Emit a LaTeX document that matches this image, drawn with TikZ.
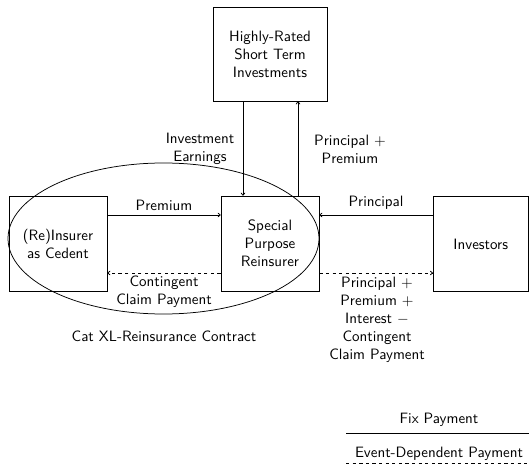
\documentclass[tikz,border=0pt]{standalone}
\usetikzlibrary{arrows.meta}
\begin{document}
\begin{tikzpicture}[x=0.6667pt,y=-0.6667pt,
  every node/.style={font=\sffamily, align=center},
  box/.style={draw, line width=0.5pt, inner sep=0pt, minimum width=65.3pt, minimum height=63.3pt},
  conn/.style={line width=0.5pt, -{To[length=2pt,width=3pt]}},
  evt/.style={dash pattern=on 2.2pt off 2.2pt},
  lbl/.style={inner sep=0pt}]
\useasboundingbox (0,0) rectangle (529,473);
% boxes
\node[box] (ced) at (58,243.5) {(Re)Insurer\\as Cedent};
\node[box] (spr) at (270,243.5) {Special\\Purpose\\Reinsurer};
\node[box, minimum width=63.3pt] (inv) at (480.75,244) {Investors};
\node[box, minimum width=76pt, minimum height=62.7pt] (top) at (270,54) {Highly-Rated\\Short Term\\Investments};
% helper coordinates
\coordinate (yA) at (0,215);
\coordinate (yB) at (0,273);
\coordinate (xL) at (243,0);
\coordinate (xR) at (298,0);
% contract ellipse
\draw[line width=0.5pt] (163.5,238.5) ellipse [x radius=155.5, y radius=75.5];
\node[lbl] (cat) at (164,336) {Cat XL-Reinsurance Contract};
% horizontal connectors
\draw[conn] (ced.east |- yA) -- (spr.west |- yA);
\draw[conn, evt] (spr.west |- yB) -- (ced.east |- yB);
\draw[conn] (inv.west |- yA) -- (spr.east |- yA);
\draw[conn, evt] (spr.east |- yB) -- (inv.west |- yB);
% vertical connectors
\draw[conn] (top.south -| xL) -- (spr.north -| xL);
\draw[conn] (spr.north -| xR) -- (top.south -| xR);
% labels
\node[lbl] (lprem) at (164,205) {Premium};
\node[lbl] (lcont) at (164,292) {Contingent\\Claim Payment};
\node[lbl] (lprin) at (376,203) {Principal};
\node[lbl] (lrepay) at (377,319.5) {Principal $+$\\Premium $+$\\Interest $-$\\Contingent\\Claim Payment};
\node[lbl] (linv) at (200,149) {Investment\\Earnings};
\node[lbl] (lpp) at (350,149.5) {Principal $+$\\Premium};
% legend
\node[lbl] (lfix) at (439,420) {Fix Payment};
\coordinate (f1) at (346,433);
\coordinate (f2) at (529,433);
\draw[line width=0.5pt] (f1) -- (f2);
\node[lbl] (levt) at (439,454) {Event-Dependent Payment};
\coordinate (e1) at (346,463);
\coordinate (e2) at (529,463);
\draw[line width=0.5pt, evt] (e1) -- (e2);
\end{tikzpicture}
\end{document}
